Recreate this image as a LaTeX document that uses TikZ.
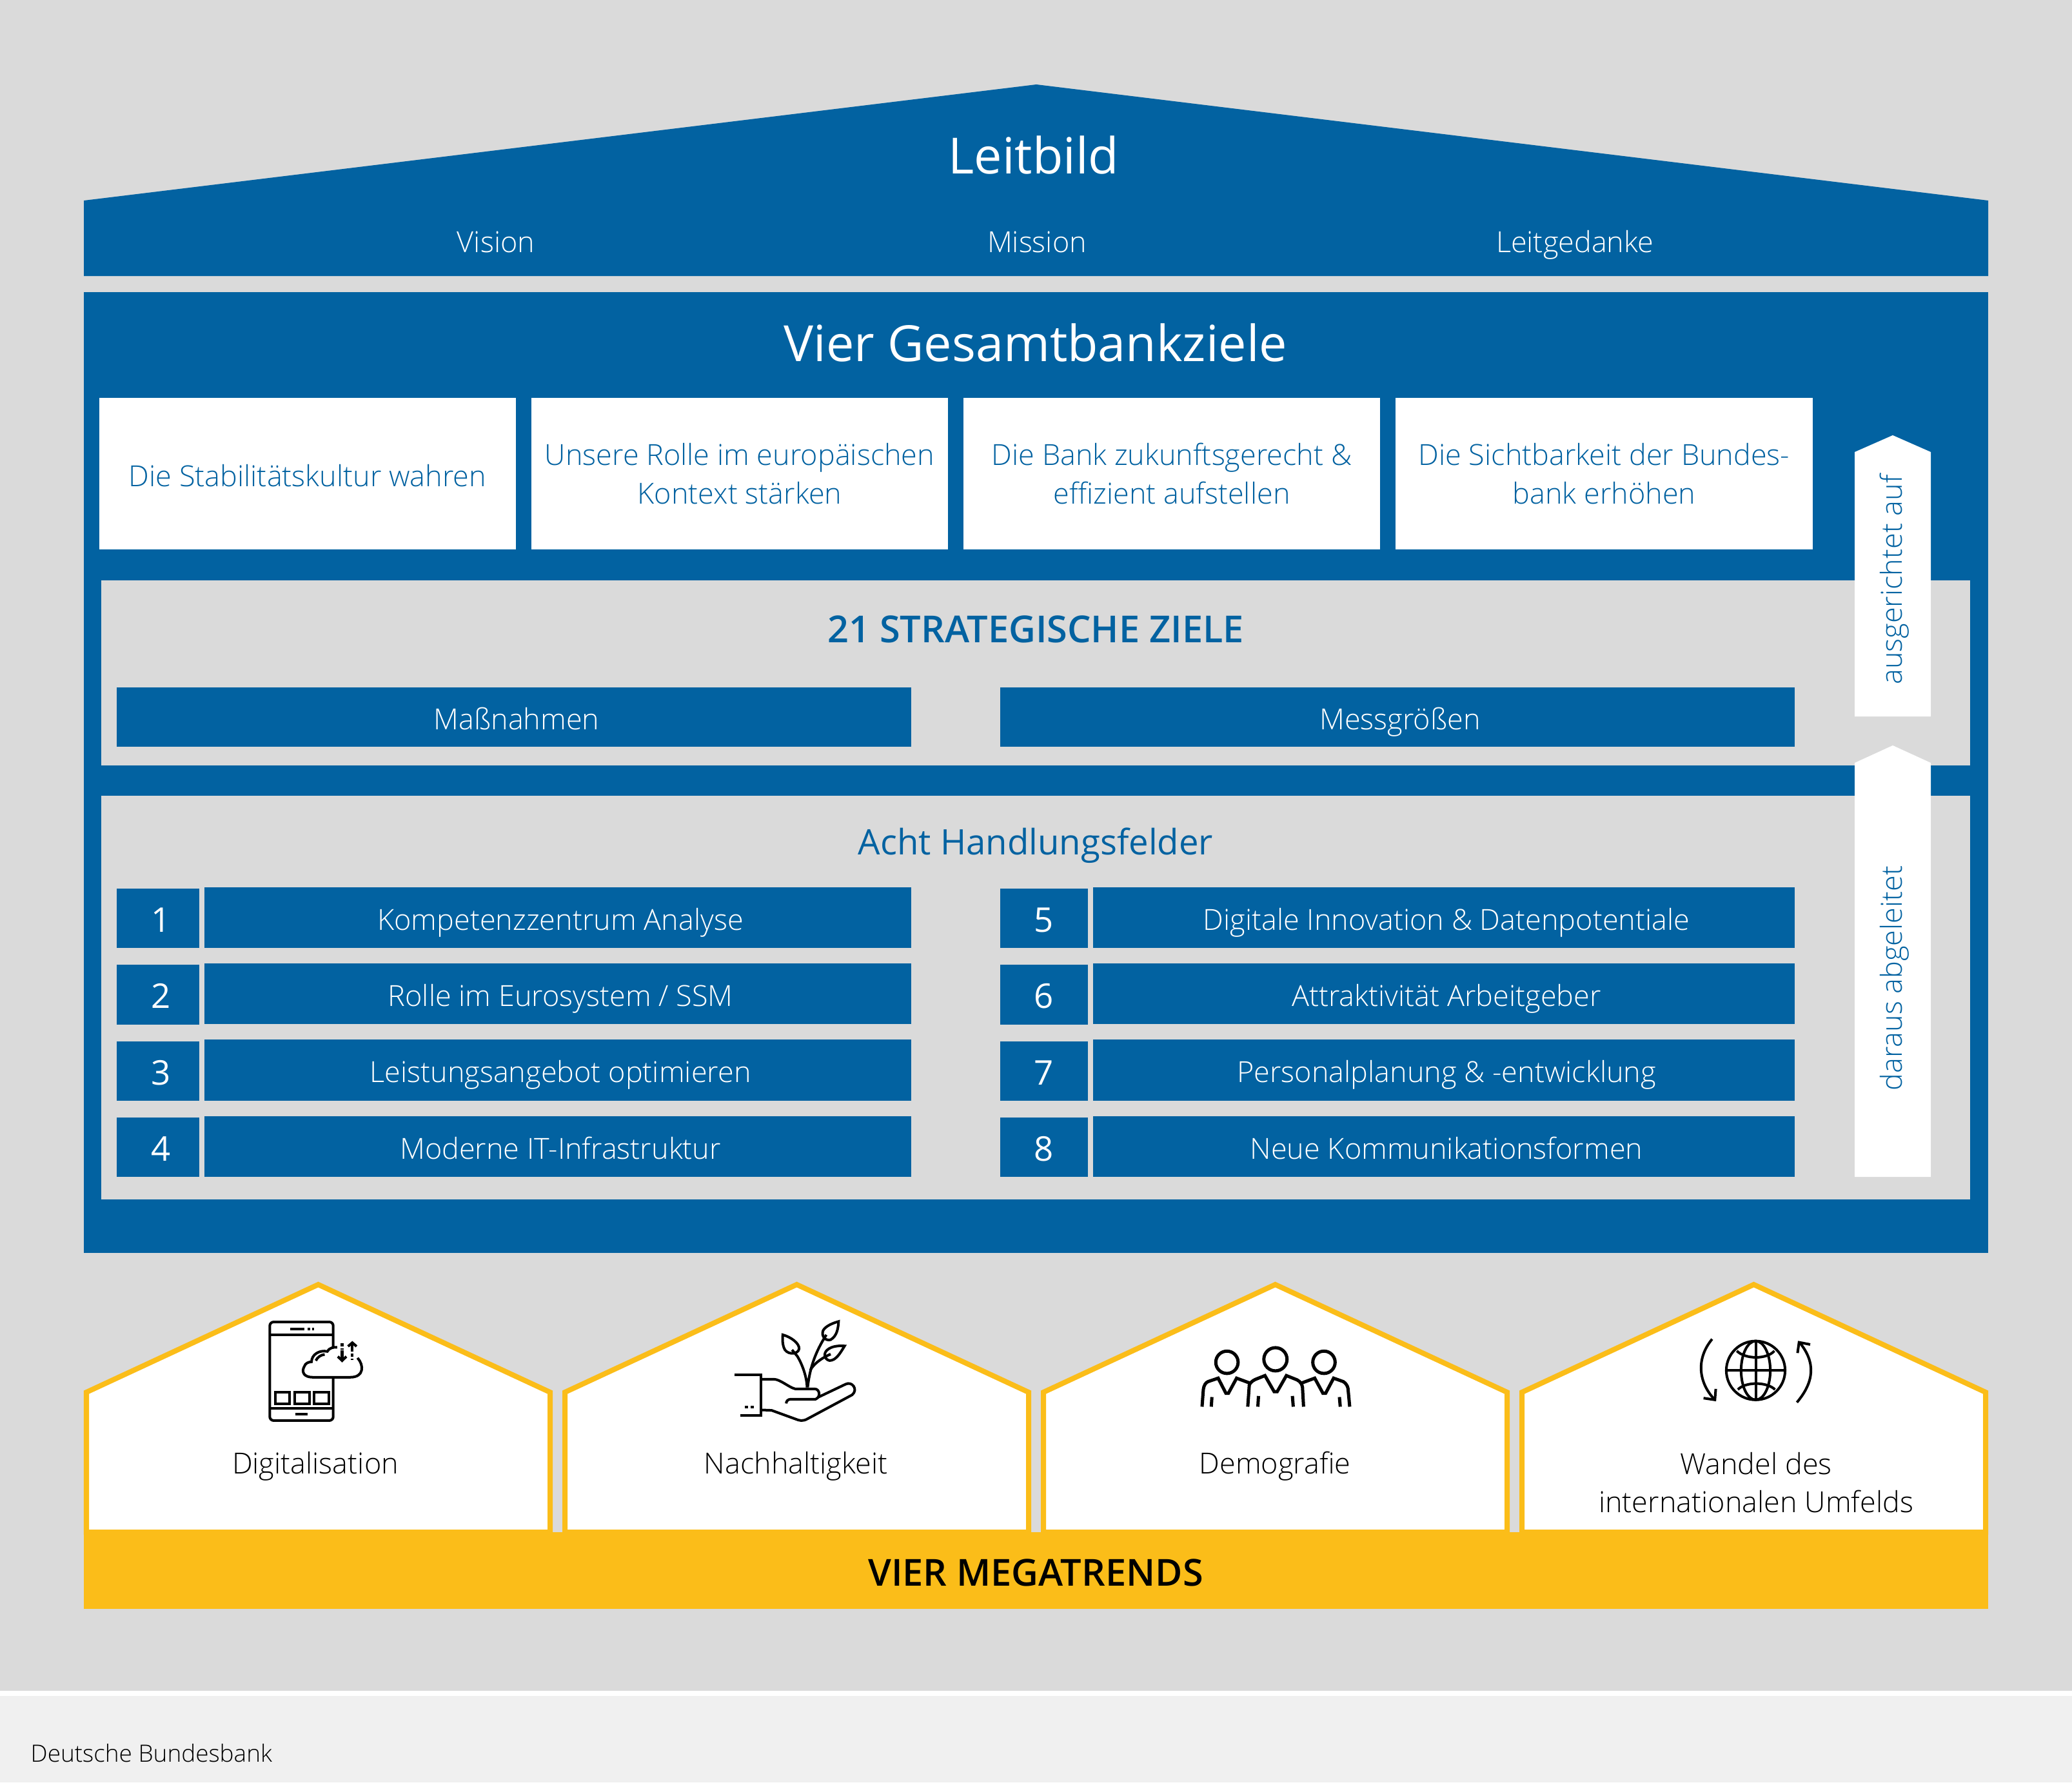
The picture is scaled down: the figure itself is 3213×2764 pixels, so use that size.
\documentclass[tikz,border=0pt]{standalone}
\usepackage{fontspec}
\setmainfont{Open Sans Light}
\newfontfamily\fsRegular{Open Sans}
\newfontfamily\fsSemi{Open Sans Semibold}
\usepackage{xcolor}
\usetikzlibrary{positioning}
\definecolor{bbBlue}{HTML}{0262A1}
\definecolor{bbGray}{HTML}{DADADA}
\definecolor{bbLight}{HTML}{F0F0F0}
\definecolor{bbYellow}{HTML}{FBBD19}
\tikzset{
    tsBox/.style={rectangle, inner sep=0pt, outer sep=0pt},
    tsWhite/.style={tsBox, fill=white, text=bbBlue, minimum width=6.46cm,
        minimum height=2.35cm, font=\fontsize{12.8}{16.9}\selectfont, align=center,
        execute at begin node={\rule{0pt}{11.5pt}}},
    tsBar/.style={tsBox, fill=bbBlue, text=white, minimum height=0.94cm,
        text height=13pt, text depth=2.2pt, font=\fontsize{12.8}{16}\selectfont,
        execute at begin node={\hspace*{0.08cm}}},
    tsNum/.style={tsBox, fill=bbBlue, text=white, minimum height=0.92cm,
        text height=15pt, text depth=3pt, font=\fsRegular\fontsize{15}{18}\selectfont},
    tsNumLeft/.style={tsNum, minimum width=1.275cm, execute at begin node={\hspace*{0.1cm}}},
    tsRoof/.style={text=white, inner sep=0pt, text height=13pt, text depth=2.2pt,
        font=\fontsize{12.8}{16}\selectfont},
    tsHead/.style={text=white, inner sep=0pt, font=\fsRegular\fontsize{22}{26}\selectfont},
    tsHouse/.style={draw=bbYellow, fill=white, line width=0.08cm, miter limit=10},
    tsTrend/.style={text=black, inner sep=0pt, align=center,
        font=\fontsize{12.8}{16.9}\selectfont},
    tsIcon/.style={draw=black, line width=0.04cm},
    tsArrowText/.style={rotate=90, text=bbBlue, inner sep=0pt,
        font=\fontsize{12.8}{16}\selectfont}
}
\begin{document}
\begin{tikzpicture}[x=0.01cm, y=-0.01cm]
    \useasboundingbox (0,0) rectangle (3213,2764);
    \fill[bbGray] (0,0) rectangle (3213,2622);
    \fill[bbLight] (0,2630) rectangle (3213,2764);
    \fill[white] (0,2622) rectangle (3213,2630);

    \fill[bbBlue] (130,311) -- (1607,131) -- (3083,311) -- (3083,428) -- (130,428) -- cycle;
    \node[tsHead] (leitbild) at (1603,240) {Leitbild};
    \node[tsRoof] (vision) at (769,373) {Vision};
    \node[tsRoof] (mission) at (1608,373) {Mission};
    \node[tsRoof] (gedanke) at (2442,373) {Leitgedanke};

    \fill[bbBlue] (130,453) rectangle (3083,1943);
    \node[tsHead] (ziele) at (1606,531) {Vier Gesamtbankziele};

    \node[tsWhite] (zielA) at (477,734.5) {Die Stabilitätskultur wahren};
    \node[tsWhite] (zielB) at (1147,734.5) {Unsere Rolle im europäischen\\Kontext stärken};
    \node[tsWhite] (zielC) at (1817,734.5) {Die Bank zukunftsgerecht \&\\effizient aufstellen};
    \node[tsWhite] (zielD) at (2487.5,734.5) {Die Sichtbarkeit der Bundes-\\bank erhöhen};

    \fill[bbGray] (157,900) rectangle (3055,1187);
    \fill[bbGray] (157,1234) rectangle (3055,1860);

    \node[text=bbBlue, inner sep=0pt, font=\fsSemi\fontsize{16.4}{20}\selectfont] (strategie) at (1606,976) {21 STRATEGISCHE ZIELE};
    \node[text=bbBlue, inner sep=0pt, font=\fsRegular\fontsize{15.5}{18}\selectfont] (felder) at (1606,1311) {Acht Handlungsfelder};

    \node[tsBar, minimum height=0.92cm, minimum width=12.32cm] (massnahmen) at (797,1112) {Maßnahmen};
    \node[tsBar, minimum height=0.92cm, minimum width=12.32cm] (messgroessen) at (2167,1112) {Messgrößen};

    \node[tsNumLeft] (n1) at (245,1424) {1};
    \node[tsNumLeft] (n2) at (245,1542.5) {2};
    \node[tsNumLeft] (n3) at (245,1661) {3};
    \node[tsNumLeft] (n4) at (245,1779) {4};
    \node[tsBar, minimum width=10.96cm] (f1) at (865,1423) {Kompetenzzentrum Analyse};
    \node[tsBar, minimum width=10.96cm] (f2) at (865,1541) {Rolle im Eurosystem / SSM};
    \node[tsBar, minimum width=10.96cm] (f3) at (865,1659.5) {Leistungsangebot optimieren};
    \node[tsBar, minimum width=10.96cm] (f4) at (865,1778) {Moderne IT-Infrastruktur};

    \node[tsNum, minimum width=1.36cm] (n5) at (1619,1424) {5};
    \node[tsNum, minimum width=1.36cm] (n6) at (1619,1542.5) {6};
    \node[tsNum, minimum width=1.36cm] (n7) at (1619,1661) {7};
    \node[tsNum, minimum width=1.36cm] (n8) at (1619,1779) {8};
    \node[tsBar, minimum width=10.88cm] (f5) at (2239,1423) {Digitale Innovation \& Datenpotentiale};
    \node[tsBar, minimum width=10.88cm] (f6) at (2239,1541) {Attraktivität Arbeitgeber};
    \node[tsBar, minimum width=10.88cm] (f7) at (2239,1659.5) {Personalplanung \& -entwicklung};
    \node[tsBar, minimum width=10.88cm] (f8) at (2239,1778) {Neue Kommunikationsformen};

    \fill[white] (2876,1111) -- (2876,701) -- (2935,675) -- (2994,701) -- (2994,1111) -- cycle;
    \fill[white] (2876,1825) -- (2876,1183) -- (2935,1156) -- (2994,1183) -- (2994,1825) -- cycle;
    \node[tsArrowText] (ausgerichtet) at (2938,899) {ausgerichtet auf};
    \node[tsArrowText] (abgeleitet) at (2938,1517) {daraus abgeleitet};

    \draw[tsHouse] (134,2376) -- (134,2159) -- (493.5,1992) -- (853,2159) -- (853,2376) -- cycle;
    \draw[tsHouse] (876,2376) -- (876,2159) -- (1235.5,1992) -- (1595,2159) -- (1595,2376) -- cycle;
    \draw[tsHouse] (1618,2376) -- (1618,2159) -- (1977.5,1992) -- (2337,2159) -- (2337,2376) -- cycle;
    \draw[tsHouse] (2360,2376) -- (2360,2159) -- (2719.5,1992) -- (3079,2159) -- (3079,2376) -- cycle;
    \fill[bbYellow] (130,2376) rectangle (3083,2495);

    \node[tsTrend] (digital) at (489,2274) {Digitalisation};
    \node[tsTrend] (nachhaltig) at (1234,2274) {Nachhaltigkeit};
    \node[tsTrend] (demografie) at (1977,2274) {Demografie};
    \node[tsTrend] (wandel) at (2723,2299) {Wandel des\\internationalen Umfelds};
    \node[text=black, inner sep=0pt, font=\fsSemi\fontsize{16.4}{20}\selectfont] (megatrends) at (1606,2439) {VIER MEGATRENDS};

    \begin{scope}[shift={(120,1960)}, x=0.0051cm, y=-0.00357cm]
        \draw[tsIcon, rounded corners=0.06cm] (778,365) -- (778,252) -- (585,252) -- (585,680) -- (778,680) -- (778,495);
        \draw[tsIcon] (585,308) -- (778,308);
        \draw[tsIcon] (585,628) -- (778,628);
        \draw[tsIcon] (648,282) -- (690,282);
        \draw[tsIcon] (700,282) -- (707,282);
        \draw[tsIcon] (713,282) -- (720,282);
        \draw[tsIcon] (663,653) -- (700,653);
        \draw[tsIcon] (602,557) rectangle (645,606);
        \draw[tsIcon] (660,557) rectangle (705,606);
        \draw[tsIcon] (720,557) rectangle (765,606);
        \draw[tsIcon] (852,408) .. controls (872,440) and (872,492) .. (830,492) -- (715,492)
            .. controls (690,492) and (680,470) .. (690,445) .. controls (693,430) and (705,425) .. (712,425)
            .. controls (712,395) and (735,372) .. (760,380) .. controls (765,365) and (780,360) .. (790,362);
        \draw[tsIcon] (725,420) .. controls (730,405) and (740,395) .. (752,393);
        \draw[tsIcon, dash pattern=on 0.05cm off 0.03cm] (805,345) -- (805,372);
        \draw[tsIcon] (805,375) -- (805,420);
        \draw[tsIcon] (792,402) -- (805,420) -- (818,402);
        \draw[tsIcon] (836,345) -- (836,382);
        \draw[tsIcon] (823,358) -- (836,342) -- (849,358);
        \draw[tsIcon, dash pattern=on 0.05cm off 0.03cm] (836,390) -- (836,418);
    \end{scope}

    \begin{scope}[shift={(1100,2030)}, x=0.00333cm, y=-0.00333cm]
        \draw[tsIcon] (118,307) -- (240,307) -- (240,497) -- (145,497);
        \draw[tsIcon] (165,458) -- (180,458);
        \draw[tsIcon] (192,458) -- (207,458);
        \draw[tsIcon] (240,327) -- (300,327) .. controls (330,327) and (370,365) .. (400,372) -- (490,372)
            .. controls (515,372) and (520,410) .. (495,420) -- (380,420) .. controls (365,420) and (358,430) .. (358,440);
        \draw[tsIcon] (505,412) -- (635,350) .. controls (665,335) and (695,375) .. (665,400) -- (460,510)
            .. controls (435,525) and (420,520) .. (400,512) -- (290,472) -- (240,470);
        \draw[tsIcon] (342,120) .. controls (380,130) and (420,160) .. (418,185)
            .. controls (415,210) and (370,215) .. (352,190) .. controls (340,170) and (340,140) .. (342,120) -- cycle;
        \draw[tsIcon] (385,190) -- (410,220) .. controls (440,270) and (455,330) .. (455,365);
        \draw[tsIcon] (602,58) .. controls (600,90) and (595,125) .. (565,143)
            .. controls (540,150) and (520,125) .. (530,100) .. controls (540,80) and (575,65) .. (602,58) -- cycle;
        \draw[tsIcon] (545,120) .. controls (510,175) and (470,250) .. (458,365);
        \draw[tsIcon] (630,172) .. controls (610,205) and (590,240) .. (560,240)
            .. controls (535,235) and (530,205) .. (550,190) .. controls (570,172) and (605,170) .. (630,172) -- cycle;
        \draw[tsIcon] (565,210) .. controls (530,225) and (490,250) .. (470,285);
    \end{scope}

    \begin{scope}[shift={(1840,2040)}, x=0.00333cm, y=-0.00333cm]
        \draw[tsIcon, line width=0.05cm] (188,218) circle[radius=52];
        \draw[tsIcon, line width=0.05cm] (414,204) circle[radius=54];
        \draw[tsIcon, line width=0.05cm] (640,218) circle[radius=52];
        \draw[tsIcon, line width=0.05cm] (72,425) -- (78,345) .. controls (80,325) and (90,312) .. (100,308) -- (147,292) -- (183,362) -- (195,362) -- (233,292) -- (295,315);
        \draw[tsIcon, line width=0.05cm] (118,380) -- (115,425);
        \draw[tsIcon, line width=0.05cm] (285,425) -- (292,325) .. controls (295,315) and (305,305) .. (320,298) -- (365,280) -- (408,355) -- (422,355) -- (465,280) -- (515,300) .. controls (530,308) and (538,320) .. (540,335) -- (545,425);
        \draw[tsIcon, line width=0.05cm] (335,375) -- (332,425);
        \draw[tsIcon, line width=0.05cm] (493,375) -- (497,425);
        \draw[tsIcon, line width=0.05cm] (535,315) -- (597,292) -- (635,362) -- (648,362) -- (685,292) -- (730,308) .. controls (742,315) and (750,328) .. (752,340) -- (760,425);
        \draw[tsIcon, line width=0.05cm] (712,380) -- (716,425);
    \end{scope}

    \begin{scope}[shift={(2600,2040)}, x=0.00333cm, y=-0.00333cm]
        \draw[tsIcon] (368,256) circle[radius=137];
        \draw[tsIcon] (368,256) ellipse[x radius=68, y radius=137];
        \draw[tsIcon] (368,120) -- (368,392);
        \draw[tsIcon] (232,256) -- (505,256);
        \draw[tsIcon] (280,165) .. controls (320,205) and (420,205) .. (455,165);
        \draw[tsIcon] (285,345) .. controls (320,308) and (420,308) .. (458,345);
        \draw[tsIcon] (165,110) .. controls (90,200) and (100,310) .. (175,390);
        \draw[tsIcon] (125,385) -- (178,393) -- (182,342);
        \draw[tsIcon] (560,405) .. controls (640,310) and (650,220) .. (572,125);
        \draw[tsIcon] (622,135) -- (570,125) -- (563,175);
    \end{scope}

    \node[anchor=base west, text=black, inner sep=0pt, font=\fontsize{10.5}{13}\selectfont] (quelle) at (47,2732) {Deutsche Bundesbank};
\end{tikzpicture}
\end{document}
